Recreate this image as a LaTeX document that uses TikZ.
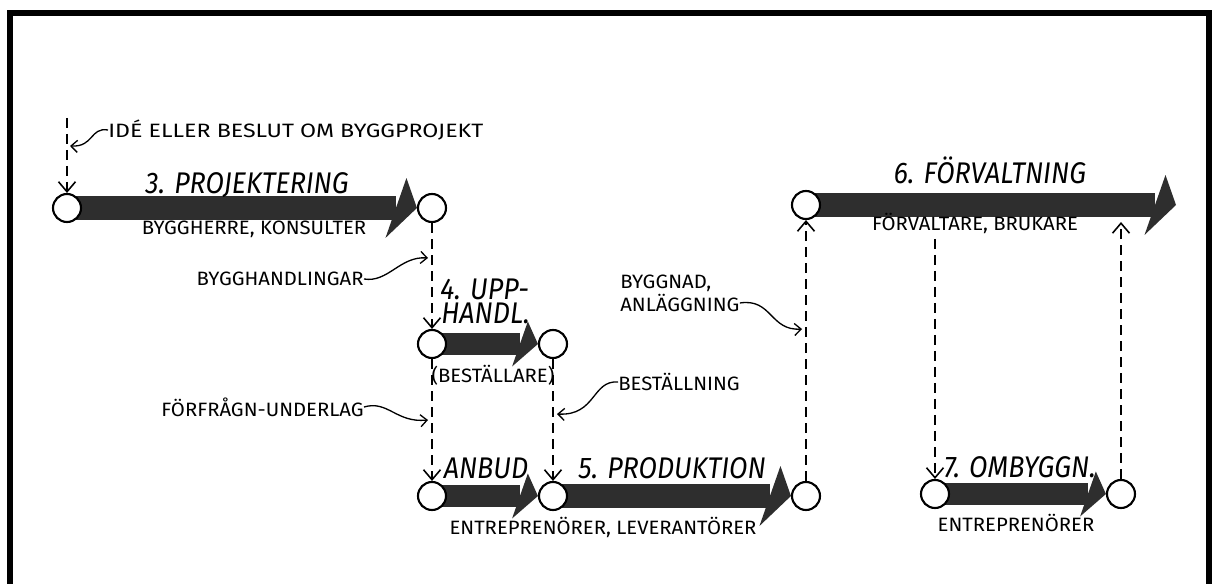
\documentclass[tikz,border=0pt]{standalone}
\usepackage{fontspec}
\setmainfont{Fira Sans}
\newfontfamily\titlefont[FakeStretch=0.9]{Fira Sans}
\newfontfamily\notefont[FakeStretch=1.05]{Fira Sans}
\newfontfamily\widenotefont[FakeStretch=1.2]{Fira Sans}
\usetikzlibrary{arrows.meta,backgrounds}

\tikzset{
  stop/.style={circle,draw,fill=white,line width=1.2pt,minimum size=0.56cm,inner sep=0pt},
  phase/.style={draw=black!82,line width=0.48cm,
    -{Triangle[length=0.42cm,width=1.2cm,slant=0.35,line width=0pt]}},
  shortphase/.style={draw=black!82,line width=0.44cm,
    -{Triangle[length=0.36cm,width=0.9cm,slant=0.35,line width=0pt]}},
  flow/.style={line width=0.75pt,dash pattern=on 0.2cm off 0.12cm,
    -{Straight Barb[length=0.2cm,width=0.34cm,line width=0.9pt]}},
  pointer/.style={line width=0.75pt,-{Straight Barb[length=0.13cm,width=0.24cm]}},
  title/.style={font=\titlefont\itshape\fontsize{17}{18}\selectfont,inner sep=0pt,
    text height=0.42cm,text depth=0pt},
  note/.style={font=\notefont\fontsize{11}{12}\selectfont,inner sep=0pt},
}

\begin{document}
\begin{tikzpicture}[x=0.02cm,y=-0.02cm]
\useasboundingbox (0,0) rectangle (1215,584);

% frame
\draw[line width=0.12cm] (10,584) -- (10,13) -- (1209,13) -- (1209,584);

% stops
\node[stop] (p1) at (67,208) {};
\node[stop] (p2) at (432,208) {};
\node[stop] (u1) at (432,344) {};
\node[stop] (u2) at (553,344) {};
\node[stop] (a1) at (432,496) {};
\node[stop] (a2) at (553,496) {};
\node[stop] (a3) at (806,496) {};
\node[stop] (f1) at (806,205) {};
\node[stop] (o1) at (935,494) {};
\node[stop] (o2) at (1121,494) {};
\coordinate (f6end) at (1176,205);
\coordinate (idtop) at (67,118);
\coordinate (f6drop) at (935,239);
\coordinate (f6rise) at (1121,222);

% phases
\begin{scope}[on background layer]
\draw[phase] (p1.center) -- (p2.west);
\draw[shortphase] (u1.center) -- (u2.west);
\draw[shortphase] (a1.center) -- (a2.west);
\draw[phase] (a2.center) -- (a3.west);
\draw[phase] (f1.center) -- (f6end);
\draw[shortphase] (o1.center) -- (o2.west);
\end{scope}

% titles
\node[title] (t3) at (247,183) {3. PROJEKTERING};
\node[title,anchor=west] (t4a) at (440,289) {4. UPP-};
\node[title,anchor=west] (t4b) at (441,313) {HANDL.};
\node[title] (tanbud) at (486,468) {ANBUD};
\node[title] (t5) at (672,468) {5. PRODUKTION};
\node[title] (t6) at (990,173) {6. FÖRVALTNING};
\node[title] (t7) at (1020,467) {7. OMBYGGN.};

% actors
\node[note] (l3) at (254,229) {BYGGHERRE, KONSULTER};
\node[note] (l4) at (493,375) {(BESTÄLLARE)};
\node[note] (l5) at (603,527) {ENTREPRENÖRER, LEVERANTÖRER};
\node[note] (l6) at (975,223) {FÖRVALTARE, BRUKARE};
\node[note] (l7) at (1016,523) {ENTREPRENÖRER};

% documents passed on
\node[note,font=\widenotefont\fontsize{11}{12}\selectfont,anchor=west] (idea) at (108,130) {IDÉ ELLER BESLUT OM BYGGPROJEKT};
\node[note,anchor=east] (bh) at (364,279) {BYGGHANDLINGAR};
\node[note,anchor=east] (ff) at (364,407) {FÖRFRÅGN-UNDERLAG};
\node[note,anchor=west] (best) at (618,382) {BESTÄLLNING};
\node[note,anchor=west] (byggnad) at (620,283) {BYGGNAD,};
\node[note,anchor=west] (anl) at (620,303) {ANLÄGGNING};
\coordinate (ideatip) at (70,146);
\coordinate (bhtip) at (428,258);
\coordinate (fftip) at (428,420);
\coordinate (besttip) at (557,414);
\coordinate (anltip) at (802,329);

% flow of documents
\draw[flow] (idtop) -- (p1);
\draw[flow] (p2) -- (u1);
\draw[flow] (u1) -- (a1);
\draw[flow] (u2) -- (a2);
\draw[flow] (a3) -- (f1);
\draw[flow] (f6drop) -- (o1);
\draw[flow] (o2) -- (f6rise);

\draw[pointer] (idea.west) .. controls (90,127) and (94,147) .. (ideatip);
\draw[pointer] (bh.east) .. controls (388,283) and (400,256) .. (bhtip);
\draw[pointer] (ff.east) .. controls (388,400) and (396,423) .. (fftip);
\draw[pointer] (best.west) .. controls (592,380) and (596,416) .. (besttip);
\draw[pointer] (anl.east) .. controls (772,298) and (770,331) .. (anltip);
\end{tikzpicture}
\end{document}
